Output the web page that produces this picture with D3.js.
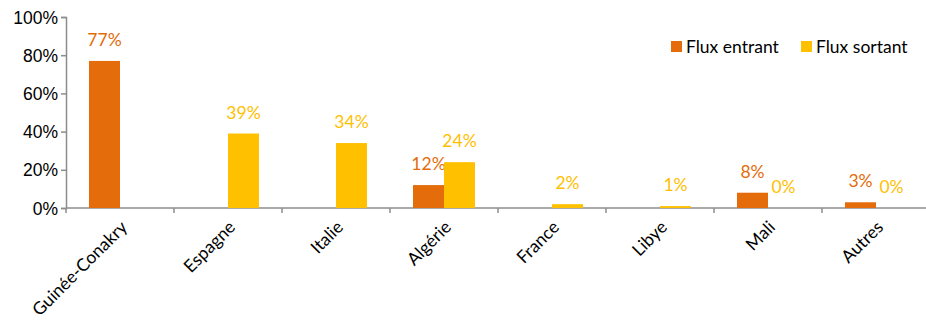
<!DOCTYPE html>
<html><head><meta charset="utf-8">
<script src="https://cdn.jsdelivr.net/npm/d3@7"></script>
<style>body{margin:0;background:#fff}svg{display:block;font-family:Lato,"Open Sans",sans-serif}</style>
</head><body><svg id="c" width="926" height="320"></svg>
<script>
const categories = ["Guinée-Conakry","Espagne","Italie","Algérie","France","Libye","Mali","Autres"];
const fluxEntrant = [77,null,null,12,null,null,8,3];
const fluxSortant = [null,39,34,24,2,1,0,0];
const seriesNames = ["Flux entrant","Flux sortant"];
const yTicks = [0,20,40,60,80,100];
const colors = ["#E46C0A","#FFC000"];
const fs = "17.5px";

const svg = d3.select("#c");
const x = d3.scaleBand().domain(categories).range([66,930]).paddingInner(0).paddingOuter(0);
const y = d3.scaleLinear().domain([0,100]).range([208,17]);
const bw = 31;

// y axis
const ya = svg.append("g").attr("transform","translate(66,0)")
  .call(d3.axisLeft(y).tickValues(yTicks).tickSize(5).tickFormat(d=>d+"%"));
ya.selectAll("text").attr("fill","#000").style("font-size",fs).attr("x",-8).attr("dy","0.35em");
ya.select(".domain").attr("stroke","#8c8c8c").attr("stroke-width",1.5);
ya.selectAll(".tick line").attr("stroke","#8c8c8c").attr("stroke-width",1.5);

// x axis
const xa = svg.append("g").attr("transform","translate(0,208)");
xa.append("line").attr("x1",66).attr("x2",930).attr("y1",0).attr("y2",0).attr("stroke","#8c8c8c").attr("stroke-width",1.5);
const bounds = categories.map(c=>x(c)).concat([x(categories[categories.length-1])+x.bandwidth()]);
xa.selectAll(".tk").data(bounds).join("line").attr("x1",d=>d).attr("x2",d=>d).attr("y1",0).attr("y2",5).attr("stroke","#8c8c8c").attr("stroke-width",1.5);
xa.selectAll(".xl").data(categories).join("text")
  .attr("transform",d=>`translate(${x(d)+x.bandwidth()/2+4},${16}) rotate(-45)`)
  .attr("text-anchor","end").attr("dy","0.35em").style("font-size",fs).attr("fill","#000").text(d=>d);

// bars
const data = [fluxEntrant, fluxSortant];
data.forEach((arr,si)=>{
  const g = svg.append("g");
  const pts = categories.map((c,i)=>({c,v:arr[i]})).filter(d=>d.v!==null);
  const bx = d=> x(d.c)+x.bandwidth()/2 + (si===0?-bw:0);
  g.selectAll("rect").data(pts).join("rect")
    .attr("x",bx).attr("width",bw).attr("y",d=>y(d.v)).attr("height",d=>208-y(d.v)).attr("fill",colors[si]);
  g.selectAll("text").data(pts).join("text")
    .attr("x",d=>bx(d)+bw/2).attr("y",d=>y(d.v)-21).attr("dy","0.35em")
    .attr("text-anchor","middle").style("font-size",fs).attr("fill",colors[si]).text(d=>d.v+"%");
});

// legend
const lg = svg.append("g");
const lx = [671,801];
seriesNames.forEach((n,i)=>{
  lg.append("rect").attr("x",lx[i]).attr("y",41).attr("width",11).attr("height",11).attr("fill",colors[i]);
  lg.append("text").attr("x",lx[i]+15).attr("y",47).attr("dy","0.35em").style("font-size",fs).attr("fill","#000").text(n);
});
</script></body></html>
